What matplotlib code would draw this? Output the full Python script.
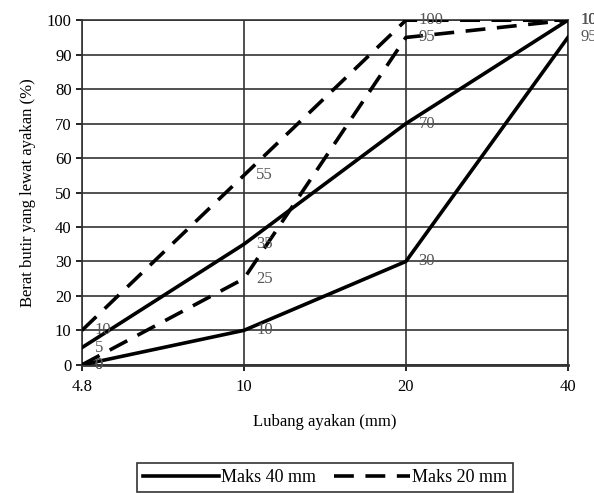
import matplotlib

matplotlib.use("Agg")
import matplotlib.pyplot as plt
from matplotlib.lines import Line2D

# sieve sizes (mm), plotted at equal spacing
sizes = ["4.8", "10", "20", "40"]
y_ticks = list(range(0, 101, 10))

# Maks 40 mm grading envelope
maks40_low = [0, 10, 30, 95]
maks40_high = [5, 35, 70, 100]
# Maks 20 mm grading envelope
maks20_low = [0, 25, 95, 100]
maks20_high = [10, 55, 100, 100]

plt.rcParams["font.family"] = ["Liberation Serif", "DejaVu Serif"]

fig = plt.figure(figsize=(5.94, 4.93), dpi=100)
ax = fig.add_axes([0.138, 0.260, 0.818, 0.699])

xs = list(range(len(sizes)))
solid = dict(color="black", lw=2.6, solid_joinstyle="round")
dashed = dict(color="black", lw=2.6, linestyle=(0, (5.5, 3.2)))

ax.plot(xs, maks40_low, **solid, zorder=3)
ax.plot(xs, maks40_high, **solid, zorder=3)
ax.plot(xs, maks20_low, **dashed, zorder=3)
ax.plot(xs, maks20_high, **dashed, zorder=3)

lab_color = "#555555"
for series in (maks40_low, maks40_high, maks20_low, maks20_high):
    for x, v in zip(xs, series):
        ax.annotate(str(v), (x, v), xytext=(9, 0), textcoords="offset points",
                    ha="left", va="center", fontsize=12, color=lab_color,
                    annotation_clip=False, zorder=4)

ax.set_xlim(0, len(sizes) - 1)
ax.set_ylim(0, 100)
ax.set_xticks(xs)
ax.set_xticklabels(sizes)
ax.set_yticks(y_ticks)
ax.tick_params(labelsize=12, direction="out", length=4, width=1.2, colors="black")
ax.tick_params(axis="x", pad=6)
ax.grid(True, color="#333333", lw=1.2)
ax.set_axisbelow(True)
for s in ax.spines.values():
    s.set_linewidth(1.2)
    s.set_color("#333333")
ax.spines["bottom"].set_linewidth(2)

ax.set_xlabel("Lubang ayakan (mm)", fontsize=12, labelpad=14)
ax.set_ylabel("Berat butir yang lewat ayakan (%)", fontsize=12, labelpad=8)

handles = [Line2D([], [], **solid), Line2D([], [], **dashed)]
leg = fig.legend(handles, ["Maks 40 mm", "Maks 20 mm"], loc="upper center",
                 bbox_to_anchor=(0.547, 0.08), ncol=2, fontsize=13,
                 frameon=True, fancybox=False, edgecolor="black",
                 handlelength=4.2, handletextpad=0.1, columnspacing=1.0,
                 borderpad=0.35)
leg.get_frame().set_linewidth(1.2)

fig.savefig("out.png", dpi=100)
